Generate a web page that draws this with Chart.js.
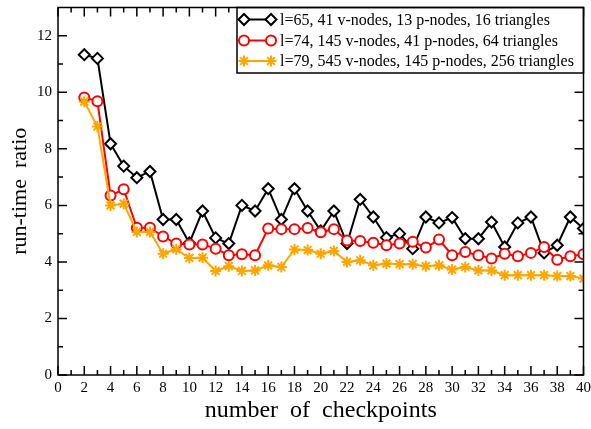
<!DOCTYPE html>
<html>
<head>
<meta charset="utf-8">
<script src="https://cdn.jsdelivr.net/npm/chart.js@4/dist/chart.umd.min.js"></script>
<style>
  html, body { margin: 0; padding: 0; background: #fff; }
  #wrap { width: 591px; height: 429px; }
</style>
</head>
<body>
<div id="wrap"><canvas id="ratioChart" width="591" height="429"></canvas></div>
<script>
// run-time ratio per number of checkpoints, three mesh sizes
const checkpoints = [2, 3, 4, 5, 6, 7, 8, 9, 10, 11, 12, 13, 14, 15, 16, 17, 18, 19, 20, 21,
  22, 23, 24, 25, 26, 27, 28, 29, 30, 31, 32, 33, 34, 35, 36, 37, 38, 39, 40];

const ratioL65 = [11.33, 11.2, 8.18, 7.39, 6.98, 7.2, 5.5, 5.5, 4.67, 5.8, 4.85, 4.65, 6.0, 5.8,
  6.59, 5.5, 6.59, 5.8, 5.1, 5.8, 4.65, 6.21, 5.59, 4.86, 5.0, 4.47, 5.59, 5.38, 5.57, 4.82,
  4.82, 5.41, 4.53, 5.38, 5.59, 4.32, 4.59, 5.59, 5.18];

const ratioL74 = [9.82, 9.68, 6.35, 6.57, 5.21, 5.21, 4.9, 4.65, 4.62, 4.62, 4.47, 4.24, 4.27,
  4.24, 5.18, 5.16, 5.16, 5.2, 5.05, 5.16, 4.76, 4.74, 4.68, 4.59, 4.65, 4.71, 4.51, 4.79, 4.24,
  4.35, 4.24, 4.12, 4.29, 4.2, 4.32, 4.53, 4.08, 4.2, 4.27];

const ratioL79 = [9.67, 8.79, 6.0, 6.06, 5.06, 5.06, 4.29, 4.45, 4.14, 4.15, 3.68, 3.85, 3.68,
  3.7, 3.88, 3.82, 4.44, 4.42, 4.29, 4.39, 4.0, 4.06, 3.88, 3.94, 3.92, 3.92, 3.85, 3.88, 3.73,
  3.82, 3.7, 3.7, 3.53, 3.53, 3.53, 3.53, 3.5, 3.5, 3.41];

const seriesLabels = [
  'l=65, 41 v-nodes, 13 p-nodes, 16 triangles',
  'l=74, 145 v-nodes, 41 p-nodes, 64 triangles',
  'l=79, 545 v-nodes, 145 p-nodes, 256 triangles',
];

const xMajorTicks = [0, 2, 4, 6, 8, 10, 12, 14, 16, 18, 20, 22, 24, 26, 28, 30, 32, 34, 36, 38, 40];
const xMinorTicks = [1, 3, 5, 7, 9, 11, 13, 15, 17, 19, 21, 23, 25, 27, 29, 31, 33, 35, 37, 39];
const yMajorTicks = [0, 2, 4, 6, 8, 10, 12];
const yMinorTicks = [1, 3, 5, 7, 9, 11];

const SERIF = "'Liberation Serif', 'Times New Roman', serif";

const styles = [
  { color: '#000000', pointStyle: 'rectRot', radius: 5.5, width: 2 },
  { color: '#ff0000', pointStyle: 'circle', radius: 5, width: 2 },
  { color: '#ffa500', pointStyle: 'star', radius: 5.5, width: 2 },
];

const toPoints = vals => checkpoints.map((x, i) => ({ x: x, y: vals[i] }));

const makeDataset = (vals, i) => ({
  label: seriesLabels[i],
  data: toPoints(vals),
  borderColor: styles[i].color,
  backgroundColor: '#ffffff',
  borderWidth: 2,
  pointStyle: styles[i].pointStyle,
  pointRadius: styles[i].radius,
  pointBorderWidth: styles[i].width,
  pointBorderColor: styles[i].color,
  pointBackgroundColor: '#ffffff',
  tension: 0,
  order: 2 - i,
})

const drawMarker = (ctx, st, x, y) => {
  ctx.save()
  ctx.strokeStyle = st.color
  ctx.fillStyle = '#ffffff'
  ctx.lineWidth = st.width
  Chart.helpers.drawPoint(ctx, { pointStyle: st.pointStyle, radius: st.radius, borderWidth: st.width, rotation: 0 }, x, y)
  ctx.restore()
}

// frame, inward ticks on all four sides, and the boxed legend
const frameAndLegend = {
  id: 'frameAndLegend',
  afterDatasetsDraw(chart) {
    const ctx = chart.ctx
    const a = chart.chartArea
    const xs = chart.scales.x
    const ys = chart.scales.y
    const majorLen = 9
    const minorLen = 5

    ctx.save()
    ctx.strokeStyle = '#000'
    ctx.lineWidth = 1.5
    ctx.beginPath()
    const tickX = (v, len) => {
      const px = xs.getPixelForValue(v)
      ctx.moveTo(px, a.bottom); ctx.lineTo(px, a.bottom - len)
      ctx.moveTo(px, a.top); ctx.lineTo(px, a.top + len)
    }
    const tickY = (v, len) => {
      const py = ys.getPixelForValue(v)
      ctx.moveTo(a.left, py); ctx.lineTo(a.left + len, py)
      ctx.moveTo(a.right, py); ctx.lineTo(a.right - len, py)
    }
    xMajorTicks.forEach(v => tickX(v, majorLen))
    xMinorTicks.forEach(v => tickX(v, minorLen))
    yMajorTicks.forEach(v => tickY(v, majorLen))
    yMinorTicks.forEach(v => tickY(v, minorLen))
    ctx.stroke()

    // legend box
    const box = { left: 237, top: a.top, right: a.right, bottom: 73 }
    ctx.fillStyle = '#fff'
    ctx.fillRect(box.left, box.top, box.right - box.left, box.bottom - box.top)
    ctx.strokeRect(box.left, box.top, box.right - box.left, box.bottom - box.top)

    const rows = [19.5, 40.5, 61]
    ctx.font = '16px ' + SERIF
    ctx.textBaseline = 'middle'
    ctx.textAlign = 'left'
    rows.forEach((ry, i) => {
      const st = styles[i]
      ctx.strokeStyle = st.color
      ctx.lineWidth = 2
      ctx.beginPath()
      ctx.moveTo(244, ry); ctx.lineTo(271, ry)
      ctx.stroke()
      drawMarker(ctx, st, 244, ry)
      drawMarker(ctx, st, 271, ry)
      ctx.fillStyle = '#000'
      ctx.fillText(seriesLabels[i], 280, ry + 1)
    })

    // outer frame
    ctx.strokeStyle = '#000'
    ctx.lineWidth = 1.5
    ctx.strokeRect(a.left, a.top, a.right - a.left, a.bottom - a.top)
    ctx.restore()
  },
}

const chart = new Chart(document.getElementById('ratioChart'), {
  type: 'line',
  data: {
    datasets: [makeDataset(ratioL65, 0), makeDataset(ratioL74, 1), makeDataset(ratioL79, 2)],
  },
  options: {
    responsive: false,
    animation: false,
    layout: { padding: { top: 6, right: 7, left: 0, bottom: 0 } },
    plugins: { legend: { display: false }, tooltip: { enabled: false } },
    scales: {
      x: {
        type: 'linear',
        min: 0,
        max: 40,
        afterBuildTicks: s => { s.ticks = xMajorTicks.map(v => ({ value: v })) },
        afterFit: s => { s.height = 54; s.paddingLeft = 0; s.paddingRight = 0 },
        grid: { display: false, drawTicks: false },
        border: { display: false },
        ticks: { color: '#000', font: { family: SERIF, size: 15 }, padding: 4, maxRotation: 0, autoSkip: false },
        title: {
          display: true,
          text: 'number  of  checkpoints',
          color: '#000',
          font: { family: SERIF, size: 24 },
          padding: { top: 0, bottom: 4 },
        },
      },
      y: {
        type: 'linear',
        min: 0,
        max: 13,
        afterBuildTicks: s => { s.ticks = yMajorTicks.map(v => ({ value: v })) },
        afterFit: s => { s.width = 58; s.paddingTop = 0; s.paddingBottom = 0 },
        grid: { display: false, drawTicks: false },
        border: { display: false },
        ticks: { color: '#000', font: { family: SERIF, size: 15 }, padding: 6 },
        title: {
          display: true,
          text: 'run-time  ratio',
          color: '#000',
          font: { family: SERIF, size: 22 },
          padding: { top: 7, bottom: 0 },
        },
      },
    },
  },
  plugins: [frameAndLegend],
})
</script>
</body>
</html>
